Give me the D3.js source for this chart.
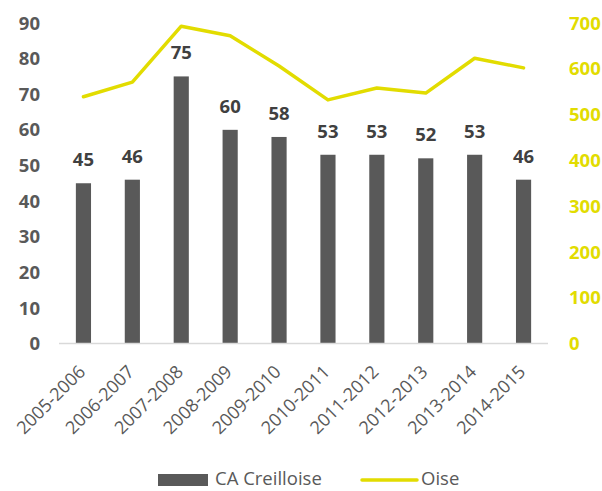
<!DOCTYPE html>
<html><head><meta charset="utf-8">
<script src="https://cdn.jsdelivr.net/npm/d3@7"></script>
<style>body{margin:0;background:#fff}svg{display:block}</style>
</head><body>
<svg id="c" width="602" height="491"></svg>
<script>
const categories = ["2005-2006","2006-2007","2007-2008","2008-2009","2009-2010","2010-2011","2011-2012","2012-2013","2013-2014","2014-2015"];
const creilValues = [45,46,75,60,58,53,53,52,53,46];
const oiseValues = [539,571,693,672,606,532,558,547,623,602];
const leftTicks = [0,10,20,30,40,50,60,70,80,90];
const rightTicks = [0,100,200,300,400,500,600,700];
const seriesNames = ["CA Creilloise","Oise"];

const barColor = "#595959", lineColor = "#e2dc00";
const font = "'Open Sans', sans-serif";
const svg = d3.select("#c");

const x = d3.scaleBand().domain(categories).range([59,548]).paddingInner(0.69).paddingOuter(0.345);
const yL = d3.scaleLinear().domain([0,90]).range([343.5,23]);
const yR = d3.scaleLinear().domain([0,700]).range([343.5,23]);

// left axis labels
svg.append("g").selectAll("text").data(leftTicks).join("text")
  .attr("x",40).attr("y",d=>yL(d)).attr("dy","0.36em")
  .attr("text-anchor","end").attr("font-family",font).attr("font-weight","bold")
  .attr("font-size",18.5).attr("fill","#595959").text(d=>d);
// right axis labels
svg.append("g").selectAll("text").data(rightTicks).join("text")
  .attr("x",569).attr("y",d=>yR(d)).attr("dy","0.36em")
  .attr("text-anchor","start").attr("font-family",font).attr("font-weight","bold")
  .attr("font-size",18.5).attr("fill",lineColor).text(d=>d);

// bars
svg.append("g").selectAll("rect").data(categories).join("rect")
  .attr("x",d=>x(d)).attr("width",x.bandwidth())
  .attr("y",(d,i)=>yL(creilValues[i])).attr("height",(d,i)=>yL(0)-yL(creilValues[i]))
  .attr("fill",barColor);

// baseline
svg.append("line").attr("x1",59).attr("x2",548).attr("y1",yL(0)).attr("y2",yL(0))
  .attr("stroke","#d9d9d9").attr("stroke-width",1.5);

// bar labels
svg.append("g").selectAll("text").data(categories).join("text")
  .attr("x",d=>x(d)+x.bandwidth()/2).attr("y",(d,i)=>yL(creilValues[i])-17)
  .attr("text-anchor","middle").attr("font-family",font).attr("font-weight","bold")
  .attr("font-size",18.5).attr("fill","#404040").text((d,i)=>creilValues[i]);

// line
const line = d3.line().x((d,i)=>x(categories[i])+x.bandwidth()/2).y(d=>yR(d));
svg.append("path").datum(oiseValues).attr("d",line).attr("fill","none")
  .attr("stroke",lineColor).attr("stroke-width",3.5).attr("stroke-linejoin","round").attr("stroke-linecap","round");

// x labels
svg.append("g").selectAll("text").data(categories).join("text")
  .attr("transform",d=>`translate(${x(d)+x.bandwidth()/2+3},373) rotate(-45)`)
  .attr("text-anchor","end").attr("font-family",font).attr("font-size",18)
  .attr("fill","#595959").text(d=>d);

// legend
const lg = svg.append("g");
lg.append("rect").attr("x",158).attr("y",474).attr("width",50).attr("height",12).attr("fill",barColor);
lg.append("text").attr("x",215).attr("y",485).attr("font-family",font).attr("font-size",18.5)
  .attr("fill","#595959").text(seriesNames[0]);
lg.append("line").attr("x1",362).attr("x2",417).attr("y1",480).attr("y2",480)
  .attr("stroke",lineColor).attr("stroke-width",3.5).attr("stroke-linecap","round");
lg.append("text").attr("x",421).attr("y",485).attr("font-family",font).attr("font-size",18.5)
  .attr("fill","#595959").text(seriesNames[1]);
</script>
</body></html>
